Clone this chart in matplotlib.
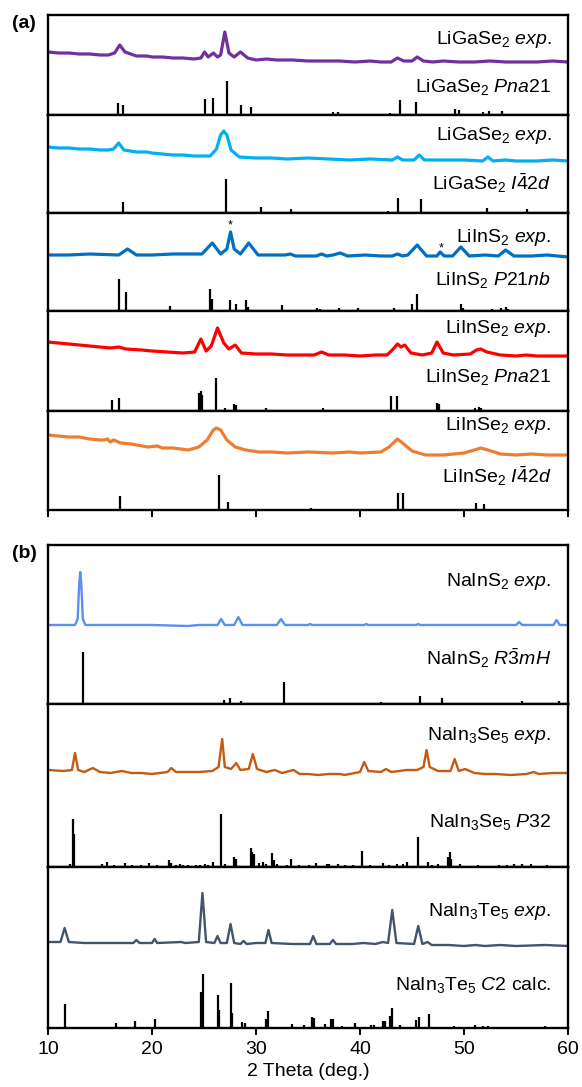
import matplotlib
matplotlib.use('Agg')
import matplotlib.pyplot as plt

plt.rcParams['font.family'] = ['Liberation Sans', 'DejaVu Sans']
plt.rcParams['mathtext.fontset'] = 'custom'
plt.rcParams['mathtext.rm'] = 'Liberation Sans'
plt.rcParams['mathtext.it'] = 'Liberation Sans:italic'

# ---- panel (a) experimental traces (2 theta, intensity in px above sub-panel floor)
ligase_pna_exp_x = [10, 11, 12, 13, 14, 15, 15.8, 16.4, 16.9, 17.4, 18.5, 19.5, 20, 21, 22, 23, 24, 24.7,
                    25.05, 25.4, 25.9, 26.3, 26.6, 27.0, 27.4, 27.9, 28.5, 29.2, 30, 31, 32, 33.5, 35,
                    36.5, 38, 39.5, 41, 42, 43, 43.6, 44.2, 45, 45.5, 46.1, 47, 48, 49.5, 51, 52.5, 54,
                    55.5, 57, 58.5, 60]
ligase_pna_exp_y = [63, 62, 62, 61, 61, 60, 60, 62, 70, 63, 59, 59, 58, 58, 57, 57, 56, 57,
                    63, 58, 62, 58, 60, 83, 62, 58, 63, 57, 55, 56, 55, 55, 54, 54, 54, 53, 54,
                    53, 53, 57, 54, 54, 58, 54, 53, 54, 53, 53, 54, 53, 53, 53, 54, 53]

ligase_i42d_exp_x = [10, 11, 12, 13, 14, 15, 15.8, 16.3, 16.8, 17.3, 18.5, 19.5, 20, 21, 22, 23, 24, 25.6,
                     26.2, 26.6, 26.9, 27.2, 27.6, 28.4, 30, 31.5, 33, 35, 37, 39, 41, 43.1, 43.6,
                     44.1, 45.2, 45.7, 46.2, 48, 50, 51.8, 52.3, 52.8, 54, 55, 57, 58.5, 60]
ligase_i42d_exp_y = [66, 65, 65, 64, 64, 63, 63, 64, 70, 63, 61, 61, 60, 59, 58, 58, 57, 57,
                     64, 78, 82, 78, 63, 56, 55, 55, 54, 55, 54, 53, 54, 53, 56,
                     53, 53, 58, 53, 53, 53, 52, 56, 52, 53, 52, 52, 53, 52]

liins_exp_x = [10, 12, 14, 16.8, 17.65, 18.5, 20, 22, 24.8, 25.8, 26.6, 27.2, 27.55, 27.9, 28.5, 29.3,
               30.2, 31.5, 32.8, 33.3, 33.8, 35.8, 36.3, 36.8, 37.4, 38.1, 38.8, 40.5, 42, 43.1, 43.6,
               44.1, 44.6, 45.5, 46.4, 47.4, 47.7, 48.1, 48.9, 49.7, 50.5, 52, 53.3, 54.0, 54.8, 56.5,
               58, 60]
liins_exp_y = [56, 56, 57, 56, 62, 56, 56, 57, 57, 68, 57, 62, 79, 62, 57, 68,
               56, 56, 56, 57, 55, 55, 57, 55, 56, 58, 55, 56, 55, 55, 57,
               55, 56, 66, 55, 55, 59, 55, 55, 64, 55, 56, 55, 61, 55, 55,
               56, 54]
star_x = [27.55, 47.8]
star_y = [86, 63]

liinse_pna_exp_x = [10, 11, 12, 13, 14, 15, 16, 16.8, 17.5, 19, 20, 21.5, 23, 24.1, 24.7, 25.2, 25.7, 26.3,
                    26.9, 27.4, 28.0, 28.6, 30, 31.5, 33, 34.5, 35.6, 36.3, 37, 38.5, 40, 41.5, 42.6,
                    43.2, 43.6, 43.95, 44.3, 44.9, 46, 46.9, 47.4, 48, 49, 50.6, 51.2, 51.6, 52.2, 53.5,
                    55, 56, 57, 58.5, 60]
liinse_pna_exp_y = [69, 68, 67, 66, 65, 64, 63, 64, 62, 61, 60, 59, 58, 59, 72, 60, 65, 83,
                    68, 62, 66, 58, 57, 57, 56, 56, 56, 59, 56, 56, 55, 56, 56,
                    62, 67, 64, 66, 58, 56, 58, 69, 58, 56, 57, 61, 62, 59, 56,
                    55, 56, 55, 55, 55]

liinse_i42d_exp_x = [10, 11, 12, 13, 14, 15, 15.4, 15.7, 16.0, 16.3, 17, 18, 19.6, 20.5, 21, 22, 23.5, 24.5,
                     25.3, 25.9, 26.2, 26.6, 27.2, 28, 29, 30.3, 31.5, 33, 35, 37.4, 39, 40, 42, 42.8,
                     43.6, 44.2, 45, 46.3, 48, 50, 51, 51.6, 52.3, 53.5, 55, 56.5, 58, 60]
liinse_i42d_exp_y = [75, 74, 73, 73, 71, 70, 70, 71, 68, 70, 67, 66, 63, 64, 62, 62, 60, 63,
                     70, 80, 82, 80, 70, 63, 60, 58, 58, 57, 58, 57, 58, 57, 58, 63,
                     71, 66, 59, 55, 55, 57, 60, 62, 60, 56, 55, 56, 55, 55]

# ---- panel (a) calculated stick patterns
ligase_pna_pos = [16.7, 17.2, 21.6, 25.1, 25.9, 27.2, 28.6, 29.5, 31.7, 35.3, 37.4, 37.9, 42.9, 43.8,
                  45.4, 49.1, 49.5, 51.8, 52.4, 53.7, 55.5, 57.0, 58.5]
ligase_pna_int = [12, 10, 1, 16, 17, 34, 10, 8, 1, 1, 3, 3, 2, 15,
                  13, 6, 5, 3, 4, 4, 1, 1, 1]

ligase_i42d_pos = [17.2, 27.1, 29.2, 30.5, 33.4, 35.2, 42.7, 43.7, 45.9, 47.4, 52.2, 56.1, 57.5]
ligase_i42d_int = [11, 34, 1, 6, 4, 1, 2, 15, 14, 1, 5, 4, 1]

liins_pos = [16.8, 17.5, 21.7, 25.6, 25.75, 27.5, 28.1, 29.05, 29.2, 31.5, 32.5, 35.9, 36.2, 38.0,
             39.8, 42.7, 43.3, 45.0, 45.5, 49.7, 49.9, 52.7, 53.6, 54.0, 54.2]
liins_int = [32, 19, 5, 22, 12, 11, 7, 11, 4, 1, 6, 3, 2, 3,
             3, 1, 3, 7, 17, 7, 3, 2, 3, 4, 2]

liinse_pna_pos = [16.2, 16.8, 20.9, 24.5, 24.7, 24.8, 26.2, 27.0, 27.9, 28.1, 31.0, 34.4, 36.4, 41.4,
                  43.0, 43.6, 47.4, 47.6, 50.4, 51.1, 51.4, 51.6, 52.7, 57.7]
liinse_pna_int = [11, 13, 1, 18, 20, 16, 33, 3, 7, 6, 3, 1, 3, 1,
                  15, 15, 8, 7, 1, 3, 4, 3, 1, 1]

liinse_i42d_pos = [16.9, 26.4, 27.3, 30.3, 35.3, 41.0, 43.7, 44.1, 47.7, 51.2, 51.9]
liinse_i42d_int = [14, 35, 8, 1, 2, 1, 17, 17, 1, 7, 6]

# ---- panel (b) experimental traces
nains_exp_x = [10, 12.6, 12.85, 13.0, 13.1, 13.2, 13.35, 13.6, 20, 23.5, 24.5, 26.3, 26.65, 27.0, 27.9,
               28.3, 28.7, 32.0, 32.4, 32.8, 35.0, 35.2, 35.4, 40.4, 40.6, 40.8, 45.4, 45.6, 45.8,
               55.0, 55.3, 55.6, 58.6, 58.9, 59.2, 60]
nains_exp_y = [79, 79, 85, 120, 132, 120, 85, 79, 79, 78, 79, 79, 85, 79, 79,
               87, 79, 79, 85, 79, 79, 80, 79, 79, 80, 79, 79, 80, 79,
               79, 82, 79, 79, 84, 79, 79]

nain3se5_exp_x = [10, 11.5, 12.3, 12.6, 12.9, 13.5, 14.3, 15.0, 16, 17.1, 18, 19, 20, 21.5, 21.85, 22.3,
                  23.5, 24.5, 25.8, 26.4, 26.75, 27.0, 27.6, 28.1, 28.5, 29.3, 29.7, 30.1, 31.0,
                  31.8, 32.5, 33.6, 34.2, 35, 36, 37, 38.1, 38.5, 40.0, 40.4, 40.8, 42, 42.5, 43,
                  44.5, 45.5, 46.1, 46.4, 46.7, 47.5, 48.7, 49.1, 49.5, 50.1, 51, 52, 53, 54.5, 56,
                  56.7, 57.2, 58.5, 60]
nain3se5_exp_y = [97, 96, 97, 114, 97, 95, 99, 95, 94, 96, 94, 94, 93, 95, 99, 95,
                  95, 95, 96, 100, 128, 100, 98, 104, 97, 98, 113, 98, 95,
                  97, 94, 97, 93, 93, 92, 93, 93, 92, 95, 105, 96, 95, 98, 95,
                  97, 97, 100, 117, 100, 96, 96, 108, 96, 98, 94, 93, 93, 92, 93,
                  95, 93, 94, 94]

nain3te5_exp_x = [10, 11.2, 11.6, 12.0, 13.5, 15, 16.5, 18.2, 18.5, 18.8, 20.0, 20.25, 20.5, 22.8, 23.2,
                  24.5, 24.85, 25.2, 26.0, 26.3, 26.6, 27.2, 27.55, 27.9, 28.5, 28.8, 29.1, 30.0,
                  30.9, 31.2, 31.5, 33.5, 35.2, 35.5, 35.8, 37.1, 37.4, 37.7, 39.3, 40.3, 41.5, 42.2,
                  42.7, 43.1, 43.5, 45.2, 45.6, 46.0, 46.5, 46.9, 48.5, 50, 51.1, 52, 53.5, 55, 57.8,
                  60]
nain3te5_exp_y = [86, 86, 100, 86, 85, 85, 85, 85, 88, 85, 85, 89, 85, 86, 85,
                  86, 135, 86, 85, 92, 85, 85, 104, 85, 84, 87, 84, 85,
                  85, 98, 85, 84, 84, 92, 84, 84, 88, 84, 84, 85, 84, 86,
                  85, 118, 85, 84, 102, 84, 86, 83, 83, 82, 83, 82, 83, 82, 83,
                  82]

# ---- panel (b) calculated stick patterns
nains_pos = [13.4, 26.9, 27.5, 28.6, 32.7, 35.6, 42.0, 45.8, 47.9, 50.0, 55.6, 59.1]
nains_int = [52, 4, 6, 3, 22, 1, 2, 8, 6, 1, 3, 3]

nain3se5_pos = [12.1, 12.4, 12.5, 13.0, 14.1, 15.2, 15.7, 16.3, 17.4, 17.9, 18.1, 18.9, 19.2, 19.7,
                20.5, 21.6, 21.8, 22.3, 22.7, 23.0, 23.5, 24.2, 24.6, 25.1, 25.4, 25.9, 26.6, 27.0,
                27.9, 28.05, 29.5, 29.65, 29.8, 30.3, 30.7, 31.0, 31.5, 31.7, 32.0, 33.0, 33.4,
                34.1, 35.1, 35.8, 36.8, 37.0, 37.9, 38.6, 39.3, 40.2, 41.0, 42.2, 42.8, 43.6, 44.1,
                44.5, 45.6, 46.5, 46.9, 47.5, 48.5, 48.65, 48.75, 49.6, 50.5, 51.3, 52.6, 53.4,
                54.1, 54.8, 55.6, 56.4, 57.2, 58.0]
nain3se5_int = [3, 48, 33, 1, 1, 3, 5, 2, 4, 1, 2, 2, 1, 4,
                2, 7, 4, 2, 3, 2, 2, 2, 2, 3, 2, 5, 53, 3,
                10, 8, 19, 15, 13, 4, 5, 3, 14, 7, 3, 2, 8,
                2, 2, 4, 3, 3, 3, 2, 2, 16, 2, 4, 2, 3, 3,
                5, 30, 5, 2, 3, 10, 15, 8, 3, 1, 2, 1, 2,
                2, 3, 3, 3, 1, 2]

nain3te5_pos = [11.6, 14.3, 16.5, 18.4, 20.3, 23.5, 24.75, 24.95, 26.3, 26.45, 27.55, 27.7, 28.7, 28.95,
                31.0, 31.2, 33.5, 34.6, 35.4, 35.6, 36.6, 37.2, 37.45, 38.3, 39.5, 41.1, 41.3,
                42.2, 42.4, 42.9, 43.1, 43.8, 45.4, 45.7, 46.6, 49.0, 51.1, 51.8, 52.3, 54.0,
                55.2, 56.5, 57.8, 58.6]
nain3te5_int = [24, 1, 5, 7, 9, 1, 36, 54, 33, 18, 45, 15, 6, 5,
                9, 17, 4, 3, 11, 10, 4, 9, 9, 2, 5, 3, 3,
                7, 7, 12, 20, 3, 8, 11, 14, 2, 3, 2, 2, 1,
                1, 1, 2, 1]

# label texts and colours
exp_colors = ['#7030A0', '#00B0F0', '#0070C0', '#FF0000', '#ED7D31',
              '#5B8FF0', '#C55A11', '#44546A']
exp_labels = ['LiGaSe$_2$ $\\mathit{exp.}$', 'LiGaSe$_2$ $\\mathit{exp.}$', 'LiInS$_2$ $\\mathit{exp.}$',
              'LiInSe$_2$ $\\mathit{exp.}$', 'LiInSe$_2$ $\\mathit{exp.}$',
              'NaInS$_2$ $\\mathit{exp.}$', 'NaIn$_3$Se$_5$ $\\mathit{exp.}$', 'NaIn$_3$Te$_5$ $\\mathit{exp.}$']
calc_labels = ['LiGaSe$_2$ $\\mathit{Pna}$21', 'LiGaSe$_2$ $\\mathit{I}\\bar{4}2\\mathit{d}$',
               'LiInS$_2$ $\\mathit{P}$21$\\mathit{nb}$', 'LiInSe$_2$ $\\mathit{Pna}$21',
               'LiInSe$_2$ $\\mathit{I}\\bar{4}2\\mathit{d}$', 'NaInS$_2$ $\\mathit{R}\\bar{3}\\mathit{mH}$',
               'NaIn$_3$Se$_5$ $\\mathit{P}$32', 'NaIn$_3$Te$_5$ $\\mathit{C}$2 calc.']
exp_label_y = [75, 78, 73, 83, 84, 122, 132, 116]
calc_label_y = [28, 30, 31, 34, 34, 46, 45, 43]

exp_x = [ligase_pna_exp_x, ligase_i42d_exp_x, liins_exp_x, liinse_pna_exp_x, liinse_i42d_exp_x,
         nains_exp_x, nain3se5_exp_x, nain3te5_exp_x]
exp_y = [ligase_pna_exp_y, ligase_i42d_exp_y, liins_exp_y, liinse_pna_exp_y, liinse_i42d_exp_y,
         nains_exp_y, nain3se5_exp_y, nain3te5_exp_y]
stick_pos = [ligase_pna_pos, ligase_i42d_pos, liins_pos, liinse_pna_pos, liinse_i42d_pos,
             nains_pos, nain3se5_pos, nain3te5_pos]
stick_int = [ligase_pna_int, ligase_i42d_int, liins_int, liinse_pna_int, liinse_i42d_int,
             nains_int, nain3se5_int, nain3te5_int]

W, H = 582, 1087
fig = plt.figure(figsize=(W / 100, H / 100), dpi=100)

# sub-panel pixel rows (top, bottom)
rows = [(15, 115), (115, 213), (213, 311), (311, 411), (411, 510),
        (545, 704), (704, 867), (867, 1028)]
x0, x1 = 48, 568

for i, (top, bot) in enumerate(rows):
    ax = fig.add_axes([x0 / W, 1 - bot / H, (x1 - x0) / W, (bot - top) / H])
    ax.set_xlim(10, 60)
    ax.set_ylim(0, bot - top)
    ax.plot(exp_x[i], exp_y[i], color=exp_colors[i], lw=2.3 if i < 5 else 1.7,
            solid_joinstyle='round')
    ax.vlines(stick_pos[i], 0, stick_int[i], color='black', lw=1.6)
    ax.text(0.968, exp_label_y[i], exp_labels[i], transform=ax.get_yaxis_transform(),
            ha='right', va='center', fontsize=14)
    ax.text(0.968, calc_label_y[i], calc_labels[i], transform=ax.get_yaxis_transform(),
            ha='right', va='center', fontsize=14)
    if i == 2:
        for sx, sy in zip(star_x, star_y):
            ax.text(sx, sy, '*', ha='center', va='center', fontsize=9)
    for s in ax.spines.values():
        s.set_linewidth(1.7)
    ax.set_yticks([])
    ax.set_xticks([10, 20, 30, 40, 50, 60])
    if i in (4, 7):
        ax.tick_params(axis='x', direction='out', length=5, width=1.5, labelsize=14, pad=4)
        if i == 4:
            ax.tick_params(labelbottom=False)
        else:
            ax.set_xlabel('2 Theta (deg.)', fontsize=14, labelpad=4)
    else:
        ax.tick_params(axis='x', bottom=False, labelbottom=False)

fig.text(12 / W, 1 - 23 / H, '(a)', fontsize=14, fontweight='bold', va='center')
fig.text(12 / W, 1 - 553 / H, '(b)', fontsize=14, fontweight='bold', va='center')

plt.savefig('out.png', dpi=100)
